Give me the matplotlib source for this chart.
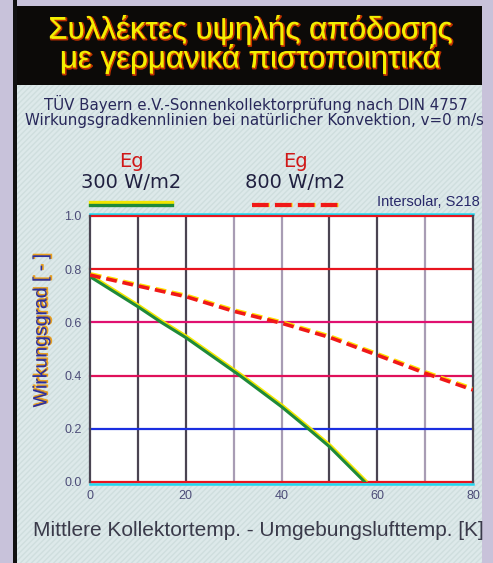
import matplotlib
matplotlib.use("Agg")
import matplotlib.pyplot as plt
import matplotlib.patheffects as pe
from matplotlib.patches import Rectangle
from matplotlib.lines import Line2D

plt.rcParams.update({
    'font.family': ['Liberation Sans', 'DejaVu Sans'],
})

# Data
temp_diff_300 = [0, 10, 14.9, 20, 31.3, 40, 45.6, 50, 57.4]
eff_300 = [0.772, 0.659, 0.600, 0.543, 0.400, 0.283, 0.200, 0.133, 0.0]
temp_diff_800 = [0, 10, 20, 30, 40, 50, 60, 70, 80]
eff_800 = [0.778, 0.737, 0.697, 0.642, 0.597, 0.544, 0.477, 0.409, 0.346]
x_ticks = [0, 20, 40, 60, 80]
y_ticks = [0.0, 0.2, 0.4, 0.6, 0.8, 1.0]
x_grid = [10, 20, 30, 40, 50, 60, 70]

title_lines = ["Συλλέκτες υψηλής απόδοσης", "με γερμανικά πιστοποιητικά"]
subtitle_lines = ["TÜV Bayern e.V.-Sonnenkollektorprüfung nach DIN 4757",
                  "Wirkungsgradkennlinien bei natürlicher Konvektion, v=0 m/s"]
series_labels = ["300 W/m2", "800 W/m2"]

# styles
y_grid_colors = ['#e8141e', '#1a2ee0', '#e0105a', '#e01070', '#e8141e', '#e8141e']
x_grid_colors = ['#4a4452', '#4a4452', '#a89cb4', '#a89cb4', '#4a4452', '#4a4452', '#a89cb4']
tick_color = '#4c4c78'

W, H = 493, 563


def fx(px):
  return px / W


def fy(py):
  return 1 - py / H


fig = plt.figure(figsize=(W / 100, H / 100), dpi=100)
fig.patch.set_facecolor('#c8c2da')

# Panels
fig.add_artist(Rectangle((fx(17), 0), fx(482) - fx(17), fy(85), transform=fig.transFigure,
                         facecolor='#dde9ea', edgecolor='#cfdede', hatch='//////', lw=0, zorder=0))
fig.add_artist(Rectangle((fx(13), fy(85)), fx(482) - fx(13), fy(6) - fy(85), transform=fig.transFigure,
                         facecolor='#0c0a08', lw=0, zorder=0))
fig.add_artist(Rectangle((fx(13), 0), fx(17) - fx(13), 1, transform=fig.transFigure,
                         facecolor='#111111', lw=0, zorder=0))

# Title
yellow_fx = [pe.Stroke(offset=(0.8, -0.8), linewidth=1.2, foreground='#c03000'), pe.Normal()]
fig.text(fx(250), fy(30), title_lines[0], ha='center', va='center', fontsize=22.5,
         color='#f4f000', path_effects=yellow_fx)
fig.text(fx(250), fy(59), title_lines[1], ha='center', va='center', fontsize=22.5,
         color='#f4f000', path_effects=yellow_fx)

# Subtitle
fig.text(fx(256), fy(104), subtitle_lines[0], ha='center', va='center', fontsize=10.8,
         family='DejaVu Sans', color='#28285a')
fig.text(fx(254), fy(121), subtitle_lines[1], ha='center', va='center', fontsize=10.8,
         family='DejaVu Sans', color='#28285a')

# Legend
for cx, lab in zip([131, 295], series_labels):
  fig.text(fx(cx), fy(161), "Eg", ha='center', va='center', fontsize=14, family='DejaVu Sans', color='#d01818')
  fig.text(fx(cx), fy(183), lab, ha='center', va='center', fontsize=14, family='DejaVu Sans', color='#202040')

fig.add_artist(Line2D([fx(90), fx(172)], [fy(204.5)] * 2, transform=fig.transFigure, color='#1f8a3a', lw=2.4,
                      path_effects=[pe.Stroke(offset=(0, 1.5), linewidth=2.4, foreground='#f2e600'), pe.Normal()]))
fig.add_artist(Line2D([fx(252), fx(338)], [fy(205)] * 2, transform=fig.transFigure, color='#f01818', lw=3,
                      dashes=(4, 1.5),
                      path_effects=[pe.Stroke(offset=(1, 0), linewidth=3, foreground='#ffe000'), pe.Normal()]))
fig.text(fx(480), fy(202), "Intersolar, S218", ha='right', va='center', fontsize=10.5, color='#28286a')

# Plot area
ax = fig.add_axes([fx(90), fy(482), fx(473) - fx(90), fy(216) - fy(482)])
ax.set_facecolor('white')
ax.set_xlim(0, 80)
ax.set_ylim(0, 1)
for s in ['top', 'bottom']:
  ax.spines[s].set_visible(False)
for s in ['left', 'right']:
  ax.spines[s].set_color('#4a4452')
  ax.spines[s].set_linewidth(1.6)

for x, c in zip(x_grid, x_grid_colors):
  ax.axvline(x, color=c, lw=1.6, zorder=1)
for y, c in zip(y_ticks, y_grid_colors):
  effects = [pe.Normal()]
  if y == 1.0:
    effects = [pe.Stroke(offset=(0, 1.3), linewidth=1.8, foreground='#20d8f0'), pe.Normal()]
  elif y == 0.0:
    effects = [pe.Stroke(offset=(0, -1.3), linewidth=1.8, foreground='#20d8f0'), pe.Normal()]
  ax.axhline(y, color=c, lw=1.6, zorder=1.5, clip_on=False, path_effects=effects)

ax.plot(temp_diff_300, eff_300, color='#1f8a3a', lw=2.2, zorder=3,
        path_effects=[pe.Stroke(offset=(0.8, 0.8), linewidth=2.2, foreground='#f2e600'), pe.Normal()])
ax.plot(temp_diff_800, eff_800, color='#f01818', lw=2.6, dashes=(3, 1.6), zorder=3,
        path_effects=[pe.Stroke(offset=(0.6, 0.8), linewidth=2.6, foreground='#ffe000'), pe.Normal()])

ax.set_xticks(x_ticks)
ax.set_yticks(y_ticks)
ax.set_yticklabels([f"{v:.1f}" for v in y_ticks])
ax.tick_params(length=0, labelsize=9, colors=tick_color, pad=6)

fig.text(fx(42), fy(330), "Wirkungsgrad [ - ]", rotation=90, ha='center', va='center', fontsize=14,
         color='#2b2fa0', path_effects=[pe.Stroke(offset=(0.7, 0.7), linewidth=1, foreground='#e8a020'), pe.Normal()])
fig.text(fx(258), fy(530), "Mittlere Kollektortemp. - Umgebungslufttemp. [K]", ha='center', va='center',
         fontsize=15, color='#3a3a4a')

fig.savefig("out.png", dpi=100)
